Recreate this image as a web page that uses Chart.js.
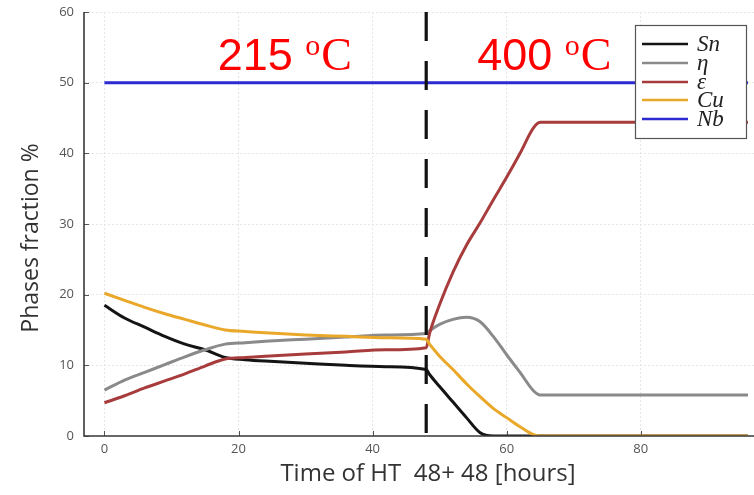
<!DOCTYPE html>
<html>
<head>
<meta charset="utf-8">
<script src="https://cdn.jsdelivr.net/npm/chart.js@4/dist/chart.umd.min.js"></script>
<style>
html,body{margin:0;padding:0;background:#fff;}
#c{display:block;}
</style>
</head>
<body>
<canvas id="c" width="754" height="495"></canvas>
<script>
// ---- data ----
const time  = [0, 3, 6, 9, 12, 15, 18, 21, 24, 30, 36, 42, 48, 48.5, 50, 52, 54, 56, 58, 60, 62, 64, 65, 72, 80, 88, 96];
const sn    = [18.5, 16.7, 15.4, 14.1, 13.0, 12.2, 11.1, 10.8, 10.6, 10.3, 10.0, 9.8, 9.4, 8.7, 7.0, 4.8, 2.6, 0.5, 0, 0, 0, 0, 0, 0, 0, 0, 0];
const eta   = [6.5, 7.9, 9.0, 10.1, 11.2, 12.2, 13.0, 13.2, 13.4, 13.7, 14.0, 14.3, 14.5, 14.9, 15.8, 16.5, 16.8, 16.2, 14.1, 11.5, 9.0, 6.4, 5.8, 5.8, 5.8, 5.8, 5.8];
const eps   = [4.7, 5.7, 6.8, 7.8, 8.8, 9.9, 10.9, 11.1, 11.3, 11.6, 11.9, 12.2, 12.5, 14.5, 18.6, 23.2, 27.0, 30.1, 33.4, 36.6, 40.0, 43.6, 44.4, 44.4, 44.4, 44.4, 44.4];
const cu    = [20.2, 19.2, 18.2, 17.3, 16.5, 15.7, 15.0, 14.8, 14.6, 14.3, 14.1, 13.9, 13.7, 13.0, 11.3, 9.4, 7.4, 5.6, 3.9, 2.6, 1.3, 0.2, 0, 0, 0, 0, 0];
const nb    = [50, 50, 50, 50, 50, 50, 50, 50, 50, 50, 50, 50, 50, 50, 50, 50, 50, 50, 50, 50, 50, 50, 50, 50, 50, 50, 50];
const seriesNames = ['Sn', 'η', 'ε', 'Cu', 'Nb'];
const dividerTime = 48;
const dividerRange = [60, 0];
const xTicks = [0, 20, 40, 60, 80];
const yTicks = [0, 10, 20, 30, 40, 50, 60];
const tempLabels = [{num: '215', x: 16.9}, {num: '400', x: 55.6}];
const xTitle = 'Time of HT  48+ 48 [hours]';
const yTitle = 'Phases fraction %';

const colors = ['#141414', '#8a8a8a', '#a83c3c', '#eaa82a', '#2a2ad0'];

function pts(ys){ return time.map((t,i)=>({x:t, y:ys[i]})); }
const allSeries = [sn, eta, eps, cu, nb];

const datasets = allSeries.map((s, i) => ({
  label: seriesNames[i],
  data: pts(s),
  borderColor: colors[i],
  backgroundColor: colors[i],
  borderWidth: 3,
  pointRadius: 0,
  tension: 0.3,
  cubicInterpolationMode: 'monotone',
  fill: false,
  order: 5 - i + 1
}));
datasets.push({
  label: 'divider',
  data: dividerRange.map(v => ({x: dividerTime, y: v})),
  borderColor: '#111',
  borderWidth: 3.2,
  borderDash: [29, 20],
  pointRadius: 0,
  fill: false,
  order: 0
});

const FONT = '"Open Sans", "DejaVu Sans", sans-serif';

const decorPlugin = {
  id: 'decor',
  beforeDatasetsDraw(chart){
    const {ctx, chartArea: a, scales:{x, y}} = chart;
    ctx.save();
    ctx.strokeStyle = '#555';
    ctx.lineWidth = 1;
    xTicks.forEach(v => { const px = Math.round(x.getPixelForValue(v)) + 0.5; ctx.beginPath(); ctx.moveTo(px, a.bottom); ctx.lineTo(px, a.bottom - 5); ctx.stroke(); });
    yTicks.forEach(v => { const py = Math.round(y.getPixelForValue(v)) + 0.5; ctx.beginPath(); ctx.moveTo(a.left, py); ctx.lineTo(a.left + 5, py); ctx.stroke(); });
    ctx.restore();
  },
  afterDatasetsDraw(chart){
    const {ctx, chartArea: a, scales:{x, y}} = chart;
    ctx.save();
    // axes lines
    ctx.strokeStyle = '#3a3a3a';
    ctx.lineWidth = 1.6;
    ctx.beginPath();
    ctx.moveTo(a.left, a.top);
    ctx.lineTo(a.left, a.bottom);
    ctx.lineTo(a.right, a.bottom);
    ctx.stroke();

    // axis titles
    ctx.fillStyle = '#333';
    ctx.textAlign = 'center';
    ctx.textBaseline = 'middle';
    ctx.font = '24px ' + FONT;
    ctx.fillText(xTitle, 428, 474);
    ctx.save();
    ctx.translate(31, 238);
    ctx.rotate(-Math.PI / 2);
    ctx.font = '23px ' + FONT;
    ctx.fillText(yTitle, 0, 0);
    ctx.restore();

    // temperature labels
    tempLabels.forEach(t => {
      let px = x.getPixelForValue(t.x);
      const base = 70;
      ctx.fillStyle = '#ff0000';
      ctx.textBaseline = 'alphabetic';
      ctx.textAlign = 'left';
      ctx.font = '45px "Liberation Sans", Arial, sans-serif';
      ctx.fillText(t.num, px, base);
      px += ctx.measureText(t.num + ' ').width;
      ctx.font = '30px "Liberation Serif", "Times New Roman", serif';
      ctx.fillText('o', px, base - 15);
      px += ctx.measureText('o').width + 1;
      ctx.font = '46px "Liberation Serif", "Times New Roman", serif';
      ctx.fillText('C', px, base);
    });

    // legend box
    const bx = 635, by = 25, bw = 111, bh = 113;
    ctx.fillStyle = '#fff';
    ctx.fillRect(bx, by, bw, bh);
    ctx.strokeStyle = '#555';
    ctx.lineWidth = 1.2;
    ctx.strokeRect(bx + 0.5, by + 0.5, bw, bh);
    const rowY = [44, 63, 82, 100, 119];
    ctx.font = 'italic 23px "Liberation Serif", "Times New Roman", serif';
    ctx.textBaseline = 'middle';
    ctx.textAlign = 'left';
    seriesNames.forEach((n, i) => {
      ctx.strokeStyle = colors[i];
      ctx.lineWidth = 2.5;
      ctx.beginPath();
      ctx.moveTo(642, rowY[i]);
      ctx.lineTo(688, rowY[i]);
      ctx.stroke();
      ctx.fillStyle = '#222';
      ctx.fillText(n, 697, rowY[i] + 1);
    });
    ctx.restore();
  }
};

new Chart(document.getElementById('c'), {
  type: 'line',
  data: { datasets },
  options: {
    responsive: false,
    animation: false,
    layout: { padding: { top: 12, right: 0, left: 0, bottom: 0 } },
    plugins: { legend: { display: false }, tooltip: { enabled: false } },
    scales: {
      x: {
        type: 'linear',
        min: -3.05,
        max: 96.9,
        afterBuildTicks(s){ s.ticks = xTicks.map(v => ({value: v})); },
        afterFit(s){ s.height = 59; s.paddingLeft = 0; s.paddingRight = 0; },
        ticks: { color: '#555', font: { family: FONT, size: 13 }, padding: 5, maxRotation: 0 },
        grid: { color: '#e6e6e6', lineWidth: 1, drawTicks: false },
        border: { display: false, dash: [2, 2] },
        title: { display: false }
      },
      y: {
        type: 'linear',
        min: 0,
        max: 60,
        afterBuildTicks(s){ s.ticks = yTicks.map(v => ({value: v})); },
        afterFit(s){ s.width = 84; s.paddingTop = 0; s.paddingBottom = 0; },
        ticks: { color: '#555', font: { family: FONT, size: 13 }, padding: 10 },
        grid: { color: '#e6e6e6', lineWidth: 1, drawTicks: false },
        border: { display: false, dash: [2, 2] },
        title: { display: false }
      }
    }
  },
  plugins: [decorPlugin]
});
</script>
</body>
</html>
